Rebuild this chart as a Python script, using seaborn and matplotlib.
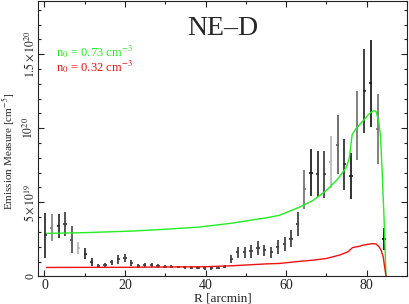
import numpy as np
import pandas as pd
import matplotlib
matplotlib.use("Agg")
import matplotlib.pyplot as plt
import seaborn as sns

# ---- data (emission measure in units of 1e19 cm^-5) ----
r_data = [0.2, 1.8, 3.5, 5.1, 6.8, 8.4, 10.1, 11.7, 13.4, 15.0, 16.7, 18.3, 20.0,
          21.6, 23.3, 24.9, 26.6, 28.2, 29.9, 31.5, 33.2, 34.8, 36.5, 38.1, 39.8,
          41.4, 43.1, 44.7, 46.4, 48.0, 49.7, 51.3, 53.0, 54.6, 56.3, 57.9, 59.6,
          61.2, 62.9, 64.5, 66.2, 67.8, 69.5, 71.1, 72.8, 74.4, 76.1, 77.7, 79.4,
          81.0, 82.7, 84.3]
em_data = [2.77, 3.28, 3.40, 3.55, 2.48, 1.92, 1.54, 0.98, 0.71, 0.76, 0.94, 1.14, 1.25,
           0.89, 0.71, 0.76, 0.78, 0.71, 0.65, 0.65, 0.63, 0.60, 0.58, 0.58, 0.56,
           0.56, 0.58, 0.65, 1.16, 1.61, 1.61, 1.70, 1.92, 1.76, 1.61, 1.99, 2.19,
           2.54, 3.55, 5.87, 6.99, 6.90, 6.90, 7.72, 8.90, 7.57, 6.79, 10.18, 12.52,
           13.04, 9.98, 2.54]
em_err = [1.50, 0.90, 0.78, 0.80, 0.90, 0.43, 0.37, 0.25, 0.15, 0.15, 0.18, 0.28, 0.26,
          0.20, 0.15, 0.15, 0.15, 0.12, 0.10, 0.10, 0.10, 0.10, 0.10, 0.10, 0.10,
          0.10, 0.10, 0.10, 0.26, 0.37, 0.39, 0.43, 0.48, 0.38, 0.40, 0.45, 0.47,
          0.58, 0.80, 1.32, 1.58, 1.56, 1.58, 1.74, 2.02, 1.73, 1.56, 2.34, 2.83,
          2.95, 2.36, 0.75]
bar_gray = ['#333333', '#888888', '#333333', '#444444', '#555555', '#bbbbbb', '#333333',
            '#333333', '#444444', '#444444', '#444444', '#444444', '#444444', '#444444',
            '#444444', '#444444', '#444444', '#444444', '#444444', '#444444', '#444444',
            '#444444', '#444444', '#444444', '#444444', '#444444', '#444444', '#444444',
            '#444444', '#444444', '#444444', '#444444', '#444444', '#444444', '#444444',
            '#444444', '#444444', '#444444', '#444444', '#777777', '#222222', '#333333',
            '#444444', '#bbbbbb', '#666666', '#333333', '#222222', '#777777', '#333333',
            '#222222', '#777777', '#111111']

r_green = [0.5, 10.0, 22.0, 30.0, 38.5, 46.8, 55.0, 58.3, 63.3, 66.6, 69.9, 72.4, 74.0,
           74.9, 75.7, 76.0, 76.4, 77.4, 79.0, 80.7, 81.7, 82.3, 83.0, 83.4, 83.8,
           84.3, 84.8]
em_green = [2.90, 2.95, 3.06, 3.18, 3.33, 3.60, 3.95, 4.12, 4.67, 5.11, 5.78, 6.45, 7.00,
            7.34, 8.00, 8.68, 9.58, 10.00, 10.47, 11.00, 11.18, 11.14, 10.47, 9.58, 7.34,
            4.00, 0.0]

r_red = [0.5, 20.0, 40.0, 47.0, 55.0, 58.3, 63.3, 66.6, 69.9, 73.2, 75.3, 76.5, 78.2,
         79.0, 80.5, 81.5, 82.3, 83.1, 83.6, 84.1, 84.8]
em_red = [0.60, 0.61, 0.65, 0.72, 0.84, 0.87, 1.01, 1.09, 1.20, 1.43, 1.65, 1.94, 2.03,
          2.10, 2.17, 2.21, 2.19, 1.99, 1.75, 1.32, 0.0]

x_ticks = [0, 20, 40, 60, 80]
y_ticks = [0, 5e19, 1e20, 1.5e20]
y_ticklabels = ['0', r'$5\times10^{19}$', r'$10^{20}$', r'$1.5\times10^{20}$']
title_text = 'NE\u2013D'
label_green = r'n$_0$ = 0.73 cm$^{-3}$'
label_red = r'n$_0$ = 0.32 cm$^{-3}$'

SCALE = 1e19
df_green = pd.DataFrame({'R': r_green, 'EM': np.array(em_green) * SCALE})
df_red = pd.DataFrame({'R': r_red, 'EM': np.array(em_red) * SCALE})
df_data = pd.DataFrame({'R': r_data, 'EM': np.array(em_data) * SCALE,
                        'err': np.array(em_err) * SCALE, 'c': bar_gray})

sns.set_style('ticks')
plt.rcParams['font.family'] = ['Liberation Serif', 'DejaVu Serif']
plt.rcParams['mathtext.fontset'] = 'stix'

fig = plt.figure(figsize=(4.09, 3.04), dpi=100)
ax = fig.add_axes([0.092, 0.091, 0.904, 0.906])

# data error bars
for _, row in df_data.iterrows():
    ax.errorbar(row['R'], row['EM'], yerr=row['err'], xerr=0.4, fmt='none',
                ecolor=row['c'], elinewidth=1.3, capsize=0, zorder=2)

sns.lineplot(data=df_green, x='R', y='EM', ax=ax, color='#22ee22', lw=1.0,
             estimator=None, sort=False, zorder=3)
sns.lineplot(data=df_red, x='R', y='EM', ax=ax, color='#ee1111', lw=1.0,
             estimator=None, sort=False, zorder=3)

ax.set_xlim(-1.7, 90.1)
ax.set_ylim(0, 1.86e20)
ax.set_xticks(x_ticks)
ax.set_xticks([10, 30, 50, 70, 90], minor=True)
ax.set_yticks(y_ticks)
ax.set_yticks([v * SCALE for v in [1, 2, 3, 4, 6, 7, 8, 9, 11, 12, 13, 14, 16, 17, 18]],
              minor=True)
ax.set_yticklabels(y_ticklabels, rotation=90, va='center', fontsize=8.5)
ax.set_xticklabels([str(t) for t in x_ticks], fontsize=10)
ax.tick_params(which='both', direction='in', top=True, right=True, colors='#222222',
               width=0.8)
ax.tick_params(which='major', length=4.5)
ax.tick_params(which='minor', length=2.5)
ax.tick_params(axis='x', pad=2)
ax.tick_params(axis='y', pad=1)
for s in ax.spines.values():
    s.set_linewidth(0.8)
    s.set_color('#222222')

ax.set_xlabel('R [arcmin]', fontsize=9.5, labelpad=0)
ax.set_ylabel(r'Emission Measure [cm$^{-5}$]', fontsize=8)
ax.yaxis.set_label_coords(-0.056, 0.455)

ax.text(0.5, 0.945, title_text, transform=ax.transAxes, ha='center', va='top',
        fontsize=20)
ax.text(0.05, 0.798, label_green, transform=ax.transAxes, color='#22ee22', fontsize=9.0,
        va='baseline')
ax.text(0.05, 0.744, label_red, transform=ax.transAxes, color='#ee1111', fontsize=9.0,
        va='baseline')

fig.savefig('out.png', dpi=100)
